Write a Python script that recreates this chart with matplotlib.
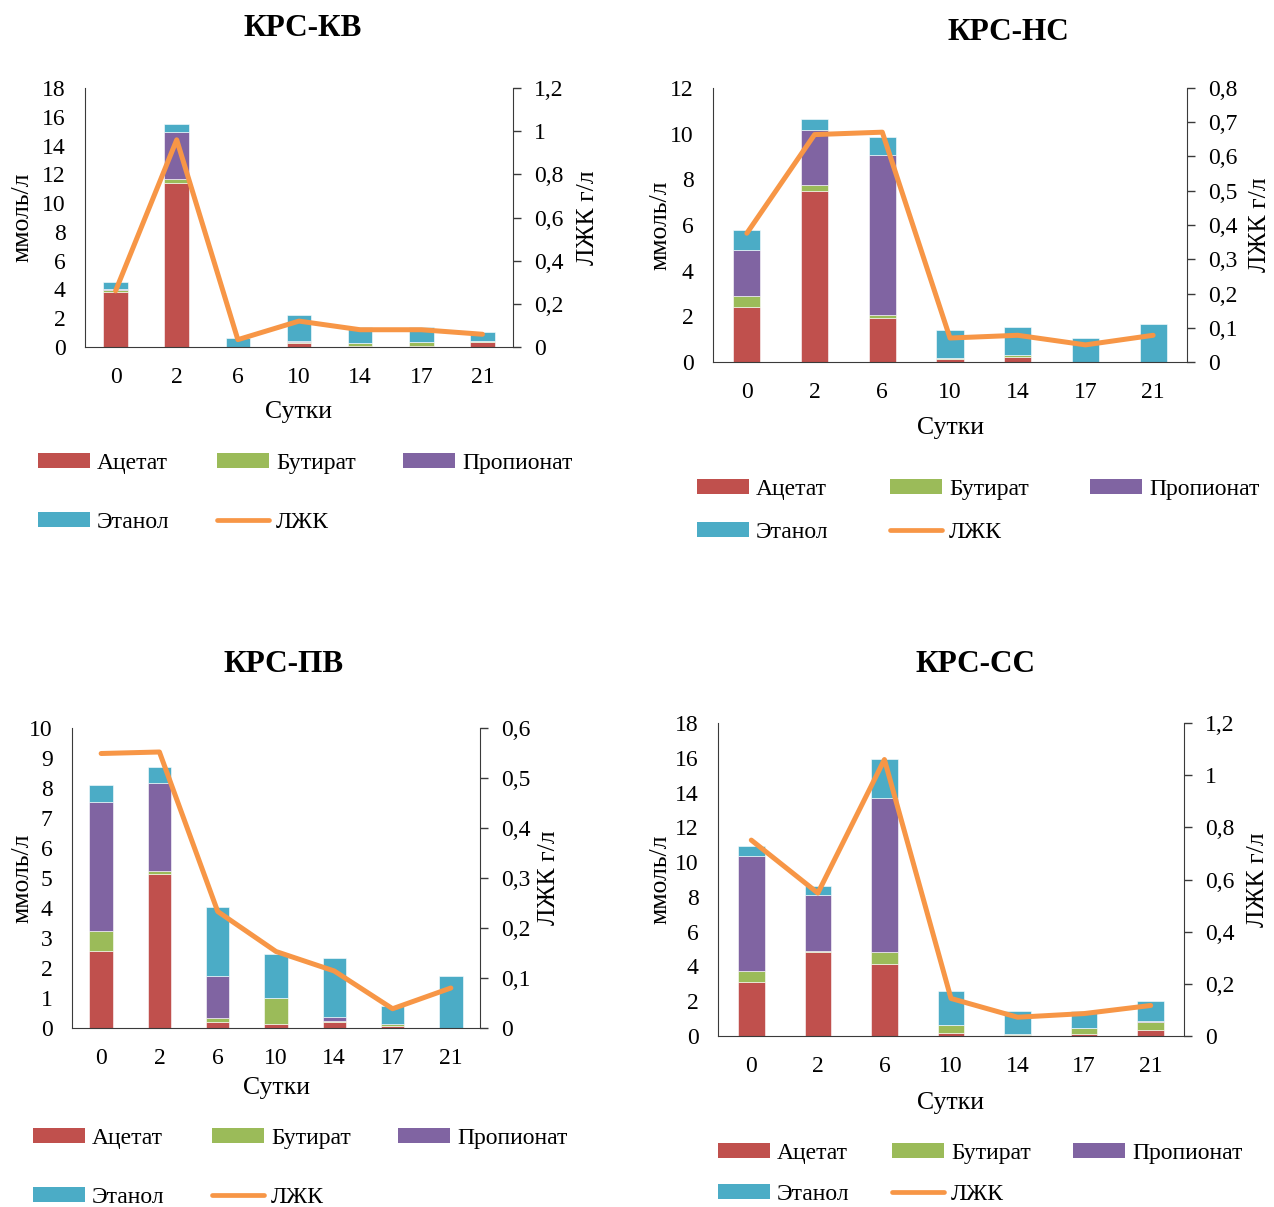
import numpy as np
import matplotlib
matplotlib.use('Agg')
import matplotlib.pyplot as plt
from matplotlib.patches import Patch
from matplotlib.lines import Line2D

plt.rcParams['font.family'] = ['Liberation Serif', 'DejaVu Serif']

days = ['0', '2', '6', '10', '14', '17', '21']

kv_acetate = [3.8, 11.4, 0.0, 0.3, 0.05, 0.05, 0.35]
kv_butyrate = [0.15, 0.3, 0.0, 0.05, 0.2, 0.3, 0.1]
kv_propionate = [0.05, 3.25, 0.0, 0.05, 0.0, 0.0, 0.0]
kv_ethanol = [0.5, 0.58, 0.6, 1.85, 1.15, 1.05, 0.6]
kv_lzhk = [0.26, 0.96, 0.034, 0.12, 0.08, 0.08, 0.059]

ns_acetate = [2.4, 7.5, 1.92, 0.15, 0.2, 0.0, 0.0]
ns_butyrate = [0.5, 0.25, 0.14, 0.03, 0.1, 0.0, 0.0]
ns_propionate = [2.0, 2.4, 7.0, 0.0, 0.0, 0.0, 0.0]
ns_ethanol = [0.9, 0.5, 0.8, 1.2, 1.25, 1.03, 1.67]
ns_lzhk = [0.376, 0.664, 0.671, 0.07, 0.078, 0.05, 0.078]

pv_acetate = [2.58, 5.13, 0.19, 0.15, 0.21, 0.07, 0.0]
pv_butyrate = [0.65, 0.1, 0.13, 0.85, 0.02, 0.06, 0.0]
pv_propionate = [4.3, 2.93, 1.43, 0.0, 0.13, 0.02, 0.0]
pv_ethanol = [0.57, 0.54, 2.27, 1.47, 1.97, 0.57, 1.72]
pv_lzhk = [0.549, 0.552, 0.233, 0.153, 0.114, 0.0385, 0.08]

ss_acetate = [3.08, 4.82, 4.12, 0.15, 0.03, 0.13, 0.33]
ss_butyrate = [0.68, 0.09, 0.72, 0.47, 0.07, 0.31, 0.46]
ss_propionate = [6.6, 3.2, 8.84, 0.02, 0.0, 0.02, 0.05]
ss_ethanol = [0.56, 0.54, 2.23, 1.92, 1.33, 0.97, 1.18]
ss_lzhk = [0.751, 0.548, 1.06, 0.144, 0.072, 0.086, 0.117]

names = ['Ацетат', 'Бутират', 'Пропионат', 'Этанол']
line_name = 'ЛЖК'
colors = ['#C0504D', '#9BBB59', '#8064A2', '#4BACC6']
line_color = '#F79646'

W, H = 1274, 1207
fig = plt.figure(figsize=(W / 100, H / 100), dpi=100)

def fx(px):
    return px / W

def fy(py):
    return 1 - py / H

# title, axes box (l, r, top, bottom px), ymax/step left, ymax/step right,
# title xy, left label x, right label x, Сутки y, legend x, legend top y, colsp, rowsp
panels = [
    dict(title='КРС-КВ', series=[kv_acetate, kv_butyrate, kv_propionate, kv_ethanol], lzhk=kv_lzhk,
         box=(85, 513, 88, 347), left=(18, 2), right=(1.2, 0.2),
         txy=(303, 28), lx=22, rx=588, sy=412, leg=(38, 453), cs=2.0, ls=1.6),
    dict(title='КРС-НС', series=[ns_acetate, ns_butyrate, ns_propionate, ns_ethanol], lzhk=ns_lzhk,
         box=(713, 1187, 88, 362), left=(12, 2), right=(0.8, 0.1),
         txy=(1008, 33), lx=660, rx=1260, sy=428, leg=(697, 479), cs=2.6, ls=0.93),
    dict(title='КРС-ПВ', series=[pv_acetate, pv_butyrate, pv_propionate, pv_ethanol], lzhk=pv_lzhk,
         box=(72, 480, 728, 1028), left=(10, 1), right=(0.6, 0.1),
         txy=(284, 664), lx=22, rx=549, sy=1088, leg=(33, 1128), cs=2.0, ls=1.6),
    dict(title='КРС-СС', series=[ss_acetate, ss_butyrate, ss_propionate, ss_ethanol], lzhk=ss_lzhk,
         box=(718, 1184, 723, 1036), left=(18, 2), right=(1.2, 0.2),
         txy=(976, 664), lx=660, rx=1258, sy=1103, leg=(718, 1143), cs=1.8, ls=0.84),
]

def comma(v, pos=None):
    return ('%g' % round(v, 3)).replace('.', ',')

x = np.arange(len(days))
for p in panels:
    l, r, t, b = p['box']
    ax = fig.add_axes([fx(l), fy(b), fx(r - l), (b - t) / H])
    bottom = np.zeros(len(days))
    for vals, c in zip(p['series'], colors):
        ax.bar(x, vals, 0.4, bottom=bottom, color=c, edgecolor='white', linewidth=0.4)
        bottom += np.array(vals)
    ax.set_xlim(-0.5, len(days) - 0.5)
    ax.set_ylim(0, p['left'][0])
    ax.set_yticks(np.arange(0, p['left'][0] + 0.001, p['left'][1]))
    ax.yaxis.set_major_formatter(comma)
    ax.set_xticks(x)
    ax.set_xticklabels(days)
    ax.tick_params(axis='both', length=0, labelsize=17)
    ax.tick_params(axis='y', pad=14)
    ax.tick_params(axis='x', pad=14.5)
    for s in ['top', 'right']:
        ax.spines[s].set_visible(False)
    for s in ['left', 'bottom']:
        ax.spines[s].set_color('#3a3a3a')

    ax2 = ax.twinx()
    ax2.plot(x, p['lzhk'], color=line_color, lw=3.6, solid_capstyle='round', solid_joinstyle='round')
    ax2.set_ylim(0, p['right'][0])
    ax2.set_yticks(np.arange(0, p['right'][0] + 0.0001, p['right'][1]))
    ax2.yaxis.set_major_formatter(comma)
    ax2.tick_params(axis='y', length=6, width=1, labelsize=17, pad=9, color='#3a3a3a')
    for s in ['top', 'left', 'bottom']:
        ax2.spines[s].set_visible(False)
    ax2.spines['right'].set_color('#3a3a3a')

    cy = (t + b) / 2
    fig.text(fx(p['txy'][0]), fy(p['txy'][1]), p['title'], ha='center', va='center',
             fontsize=22.5, fontweight='bold')
    fig.text(fx(p['lx']), fy(cy), 'ммоль/л', rotation=90, ha='center', va='center', fontsize=18.5)
    fig.text(fx(p['rx']), fy(cy), 'ЛЖК г/л', rotation=90, ha='center', va='center', fontsize=18.5)
    fig.text(fx((l + r) / 2), fy(p['sy']), 'Сутки', ha='center', va='center', fontsize=18.5)

    patches = [Patch(facecolor=c, edgecolor='none') for c in colors]
    line = Line2D([], [], color=line_color, lw=3.4, solid_capstyle='round')
    handles = [patches[0], patches[3], patches[1], line, patches[2]]
    labels = [names[0], names[3], names[1], line_name, names[2]]
    fig.legend(handles, labels, loc='upper left',
               bbox_to_anchor=(fx(p['leg'][0]), fy(p['leg'][1])),
               bbox_transform=fig.transFigure, ncol=3, frameon=False,
               fontsize=17, borderpad=0, borderaxespad=0,
               handlelength=2.2, handleheight=0.61, handletextpad=0.3,
               columnspacing=p['cs'], labelspacing=p['ls'])

fig.savefig('out.png', dpi=100)
